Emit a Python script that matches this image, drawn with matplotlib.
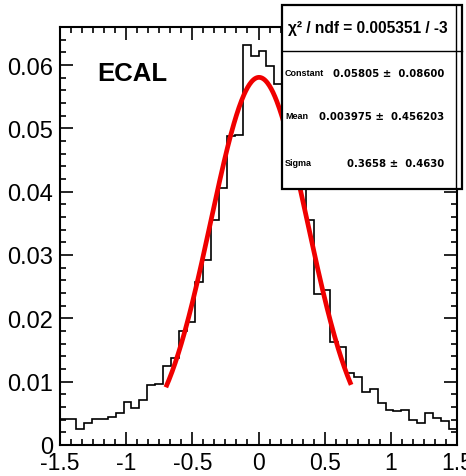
import numpy as np
import matplotlib
matplotlib.use("Agg")
import matplotlib.pyplot as plt
from matplotlib.patches import Rectangle
from matplotlib.lines import Line2D
from matplotlib.ticker import MultipleLocator

plt.rcParams['font.family'] = ['Liberation Sans', 'DejaVu Sans']

# ---- data ----
bin_lo, bin_hi, n_bins = -1.5, 1.5, 50
counts = [0.00416, 0.00416, 0.00246, 0.00352, 0.00405, 0.00405, 0.00447, 0.0051,
          0.00685, 0.0059, 0.0071, 0.0094, 0.0096, 0.0124, 0.0138, 0.0180,
          0.0194, 0.0258, 0.0292, 0.0355, 0.0406, 0.0488, 0.0490, 0.0632,
          0.0615, 0.0622, 0.0598, 0.0570, 0.0540, 0.0500, 0.0440, 0.0355,
          0.0239, 0.0244, 0.0163, 0.0154, 0.0113, 0.0108, 0.0084, 0.0088,
          0.0067, 0.0056, 0.0054, 0.0056, 0.0039, 0.0035, 0.0051, 0.0042,
          0.0038, 0.0026]
fit_const, fit_mean, fit_sigma = 0.05805, 0.003975, 0.3658
fit_range = (-0.7, 0.7)
label = "ECAL"
stat_header = "χ² / ndf = 0.005351 / -3"
stat_names = ["Constant", "Mean", "Sigma"]
stat_values = ["0.05805 ±  0.08600", "0.003975 ±  0.456203", "0.3658 ±  0.4630"]
xticks = [-1.5, -1, -0.5, 0, 0.5, 1, 1.5]
xticklabels = ["-1.5", "-1", "-0.5", "0", "0.5", "1", "1.5"]
yticks = [0, 0.01, 0.02, 0.03, 0.04, 0.05, 0.06]
yticklabels = ["0", "0.01", "0.02", "0.03", "0.04", "0.05", "0.06"]

W, H = 466, 477
fig = plt.figure(figsize=(W / 100, H / 100), dpi=100)
ax = fig.add_axes([60 / W, 1 - 446 / H, 397 / W, 418 / H])

edges = np.linspace(bin_lo, bin_hi, n_bins + 1)
ax.stairs(counts, edges, color='black', linewidth=1.2, baseline=None)

xf = np.linspace(fit_range[0], fit_range[1], 300)
yf = fit_const * np.exp(-0.5 * ((xf - fit_mean) / fit_sigma) ** 2)
ax.plot(xf, yf, color='#f00000', linewidth=3.4, solid_capstyle='butt')

ax.set_xlim(bin_lo, bin_hi)
ax.set_ylim(0, 0.066)
ax.set_xticks(xticks)
ax.set_xticklabels(xticklabels, fontsize=16.5)
ax.set_yticks(yticks)
ax.set_yticklabels(yticklabels, fontsize=17)
ax.xaxis.set_minor_locator(MultipleLocator(0.5 / 6))
ax.yaxis.set_minor_locator(MultipleLocator(0.002))
ax.tick_params(which='both', direction='in', top=True, right=True, width=1.2)
ax.tick_params(which='major', length=9.5)
ax.tick_params(which='minor', length=4.5)
ax.tick_params(axis='y', pad=5)
ax.tick_params(axis='x', pad=4)
for s in ax.spines.values():
    s.set_linewidth(1.5)

ax.text((97 - 60) / 397, 1 - (74 - 28) / 418, label, transform=ax.transAxes,
        fontsize=18.5, fontweight='bold', ha='left', va='center')

# ---- stats box (figure coords) ----
def fx(px):
    return px / W

def fy(py):
    return 1 - py / H

box = Rectangle((fx(282), fy(190)), fx(462) - fx(282), fy(6) - fy(190),
                transform=fig.transFigure, facecolor='white', edgecolor='black',
                linewidth=1.6, zorder=10)
fig.patches.append(box)
fig.lines.append(Line2D([fx(456), fx(456)], [fy(6), fy(190)], transform=fig.transFigure,
                        color='black', linewidth=1.0, zorder=11))
fig.lines.append(Line2D([fx(282), fx(462)], [fy(52), fy(52)], transform=fig.transFigure,
                        color='black', linewidth=1.0, zorder=11))
fig.text(fx(368), fy(28), stat_header, fontsize=11.2, fontweight='bold',
         ha='center', va='center', zorder=12)
rows_y = [74, 117, 164]
for name, val, yy in zip(stat_names, stat_values, rows_y):
    fig.text(fx(285), fy(yy), name, fontsize=6.5, fontweight='bold',
             ha='left', va='center', zorder=12)
    fig.text(fx(444), fy(yy), val, fontsize=7.3, fontweight='bold',
             family=['DejaVu Sans'], ha='right', va='center', zorder=12)

fig.savefig("out.png", dpi=100)
